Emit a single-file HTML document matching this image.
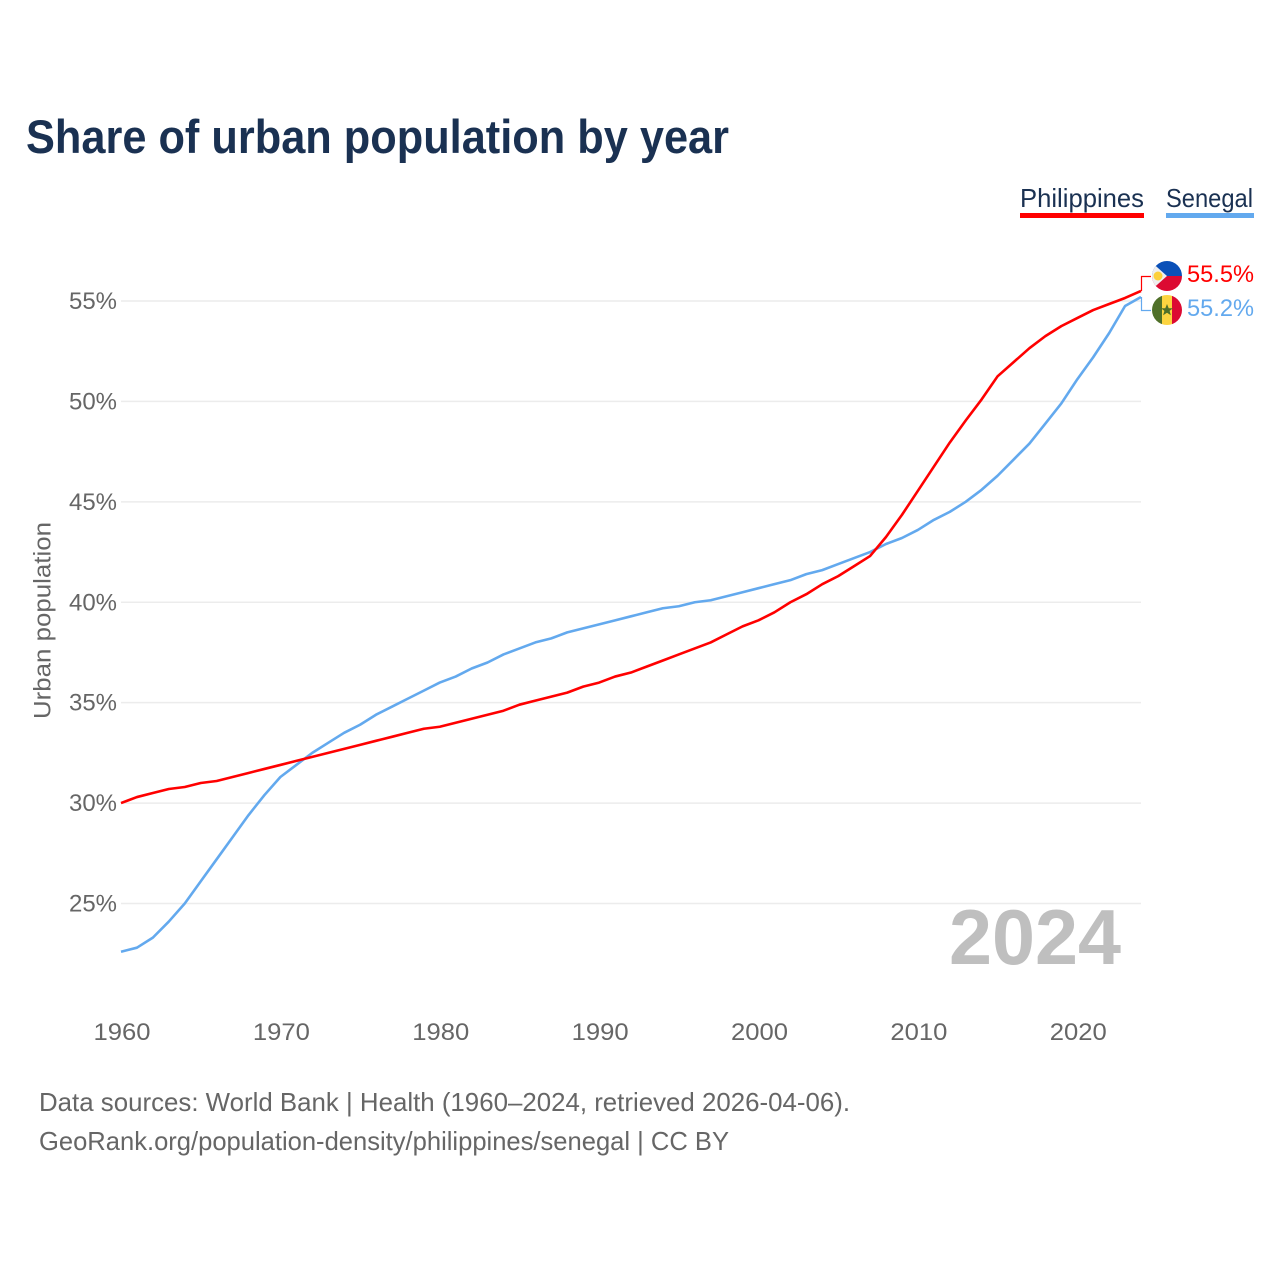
<!DOCTYPE html>
<html lang="en">
<head>
<meta charset="utf-8">
<title>Share of urban population by year</title>
<style>
html,body{margin:0;padding:0;background:#fff;width:1280px;height:1280px;overflow:hidden}
svg{display:block;font-family:"Liberation Sans",sans-serif}
</style>
</head>
<body>
<svg id="chart" width="1280" height="1280" viewBox="0 0 1280 1280" xmlns="http://www.w3.org/2000/svg">
  <defs>
    <clipPath id="flag-clip-ph"><circle cx="1167" cy="276" r="15"/></clipPath>
    <clipPath id="flag-clip-sn"><circle cx="1167" cy="310" r="15"/></clipPath>
  </defs>
  <text x="26" y="153" font-size="47" font-weight="700" fill="#1a3152" textLength="703" lengthAdjust="spacingAndGlyphs">Share of urban population by year</text>

  <g>
    <g>
      <text x="1020" y="207" font-size="26" fill="#1a3152" textLength="124" lengthAdjust="spacingAndGlyphs">Philippines</text>
      <rect x="1020" y="213" width="124" height="5" fill="#ff0000"/>
    </g>
    <g>
      <text x="1166" y="207" font-size="26" fill="#1a3152" textLength="87" lengthAdjust="spacingAndGlyphs">Senegal</text>
      <rect x="1166" y="213" width="88" height="5" fill="#63a9ee"/>
    </g>
  </g>

  <g id="grid"></g>
  <g id="y-ticks"></g>
  <g id="x-ticks"></g>

  <text transform="translate(50.5,620.5) rotate(-90)" text-anchor="middle" font-size="24" fill="#666666" textLength="197" lengthAdjust="spacingAndGlyphs">Urban population</text>

  <text x="949" y="964" font-size="78" font-weight="700" fill="#bfbfbf" textLength="172" lengthAdjust="spacingAndGlyphs">2024</text>

  <g id="series"></g>
  <g id="connectors"></g>

  <g clip-path="url(#flag-clip-ph)">
    <rect x="1152" y="261" width="30" height="15" fill="#0a50b8"/>
    <rect x="1152" y="276" width="30" height="15" fill="#dc0a32"/>
    <polygon points="1148,259 1167,276 1148,293" fill="#efefef"/>
    <circle cx="1158" cy="276" r="4.5" fill="#fcd03c"/>
  </g>
  <g clip-path="url(#flag-clip-sn)">
    <rect x="1152" y="295" width="10" height="30" fill="#4f7029"/>
    <rect x="1162" y="295" width="10" height="30" fill="#fcd440"/>
    <rect x="1172" y="295" width="10" height="30" fill="#dc0a32"/>
    <polygon points="1167,304 1168.7,308.2 1173,308.2 1169.6,310.9 1170.9,315.2 1167,312.7 1163.1,315.2 1164.4,310.9 1161,308.2 1165.3,308.2" fill="#4f7029"/>
  </g>

  <g id="end-labels"></g>

  <text x="39" y="1111" font-size="26" fill="#666666" textLength="811" lengthAdjust="spacingAndGlyphs">Data sources: World Bank | Health (1960–2024, retrieved 2026-04-06).</text>
  <text x="39" y="1150" font-size="26" fill="#666666" textLength="690" lengthAdjust="spacingAndGlyphs">GeoRank.org/population-density/philippines/senegal | CC BY</text>
</svg>
<script>
const years = [1960,1961,1962,1963,1964,1965,1966,1967,1968,1969,1970,1971,1972,1973,1974,1975,1976,1977,1978,1979,1980,1981,1982,1983,1984,1985,1986,1987,1988,1989,1990,1991,1992,1993,1994,1995,1996,1997,1998,1999,2000,2001,2002,2003,2004,2005,2006,2007,2008,2009,2010,2011,2012,2013,2014,2015,2016,2017,2018,2019,2020,2021,2022,2023,2024];
const philippines = [30.0,30.3,30.5,30.7,30.8,31.0,31.1,31.3,31.5,31.7,31.9,32.1,32.3,32.5,32.7,32.9,33.1,33.3,33.5,33.7,33.8,34.0,34.2,34.4,34.6,34.9,35.1,35.3,35.5,35.8,36.0,36.3,36.5,36.8,37.1,37.4,37.7,38.0,38.4,38.8,39.1,39.5,40.0,40.4,40.9,41.3,41.8,42.3,43.25,44.35,45.55,46.75,47.95,49.05,50.1,51.25,51.95,52.65,53.25,53.75,54.15,54.55,54.85,55.15,55.5];
const senegal = [22.6,22.8,23.3,24.1,25.0,26.1,27.2,28.3,29.4,30.4,31.3,31.9,32.5,33.0,33.5,33.9,34.4,34.8,35.2,35.6,36.0,36.3,36.7,37.0,37.4,37.7,38.0,38.2,38.5,38.7,38.9,39.1,39.3,39.5,39.7,39.8,40.0,40.1,40.3,40.5,40.7,40.9,41.1,41.4,41.6,41.9,42.2,42.5,42.9,43.2,43.6,44.1,44.5,45.0,45.6,46.3,47.1,47.9,48.9,49.9,51.1,52.2,53.4,54.75,55.2];
const yTicks = [25,30,35,40,45,50,55];
const xTicks = [1960,1970,1980,1990,2000,2010,2020];
const endValues = ["55.5%","55.2%"];

const NS = 'http://www.w3.org/2000/svg';
const xScale = function (year) { return 121 + (year - 1960) * (1141 - 121) / 64; };
const yScale = function (pct) { return 903.5 - (pct - 25) * (903.5 - 301) / 30; };

function make(tag, parent, attrs, content) {
  const el = document.createElementNS(NS, tag);
  for (const key in attrs) el.setAttribute(key, attrs[key]);
  if (content !== undefined) el.textContent = content;
  parent.appendChild(el);
  return el;
}

const grid = document.getElementById('grid');
const yGroup = document.getElementById('y-ticks');
yTicks.forEach(function (t) {
  const line = make('line', grid, {x1: 121, x2: 1141, y1: yScale(t), y2: yScale(t), stroke: '#ececec', 'stroke-width': 1.5});
  
  
  const label = make('text', yGroup, {x: 117, y: yScale(t) + 8, 'text-anchor': 'end', 'font-size': 24, fill: '#666666', textLength: 48, lengthAdjust: 'spacingAndGlyphs'}, t + '%');
  
  
});

const xGroup = document.getElementById('x-ticks');
xTicks.forEach(function (t) {
  const label = make('text', xGroup, {x: xScale(t) + 1, y: 1040, 'text-anchor': 'middle', 'font-size': 24, fill: '#666666', textLength: 57, lengthAdjust: 'spacingAndGlyphs'}, String(t));
  
  
});

function pathFor(values) {
  return values.map(function (v, i) {
    return (i ? 'L' : 'M') + xScale(years[i]).toFixed(2) + ' ' + yScale(v).toFixed(2);
  }).join(' ');
}

const seriesGroup = document.getElementById('series');
const senegalLine = make('path', seriesGroup, {d: pathFor(senegal), fill: 'none', stroke: '#63a9ee', 'stroke-width': 2.6, 'stroke-linejoin': 'round'});


const philippinesLine = make('path', seriesGroup, {d: pathFor(philippines), fill: 'none', stroke: '#ff0000', 'stroke-width': 2.6, 'stroke-linejoin': 'round'});



const connectors = document.getElementById('connectors');
const lastYear = years[years.length - 1];
const connectorRed = make('path', connectors, {d: 'M' + (xScale(lastYear) + 0.5) + ' ' + yScale(philippines[philippines.length - 1]) + ' V276.5 H1151', fill: 'none', stroke: '#ff0000', 'stroke-width': 1.2});


const connectorBlue = make('path', connectors, {d: 'M' + (xScale(lastYear) + 0.5) + ' ' + yScale(senegal[senegal.length - 1]) + ' V310.5 H1151', fill: 'none', stroke: '#63a9ee', 'stroke-width': 1.2});



const endLabels = document.getElementById('end-labels');
const endRed = make('text', endLabels, {x: 1187, y: 282, 'font-size': 24, fill: '#ff0000', textLength: 67, lengthAdjust: 'spacingAndGlyphs'}, endValues[0]);


const endBlue = make('text', endLabels, {x: 1187, y: 316, 'font-size': 24, fill: '#63a9ee', textLength: 67, lengthAdjust: 'spacingAndGlyphs'}, endValues[1]);


</script>
</body>
</html>
